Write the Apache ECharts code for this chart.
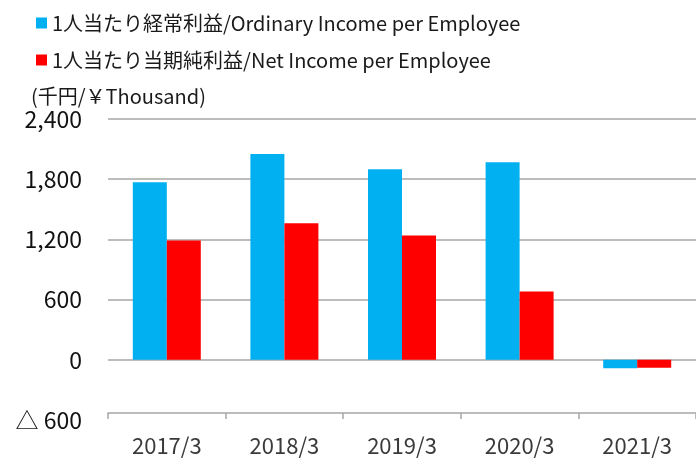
<!DOCTYPE html>
<html>
<head>
<meta charset="utf-8">
<script src="https://cdn.jsdelivr.net/npm/echarts@6/dist/echarts.min.js"></script>
<style>
  html, body { margin: 0; padding: 0; background: #fff; }
  #chart { width: 696px; height: 458px; }
</style>
</head>
<body>
<div id="chart"></div>
<script>
const years = ['2017/3', '2018/3', '2019/3', '2020/3', '2021/3'];
const ordinaryIncome = [1770, 2050, 1900, 1970, -85];
const netIncome = [1190, 1360, 1240, 680, -80];

const FONT = '"Noto Sans CJK JP", "Noto Sans", sans-serif';

const chart = echarts.init(document.getElementById('chart'));

chart.setOption({
    animation: false,
    backgroundColor: '#fff',
    textStyle: { fontFamily: FONT },
    title: {
        text: '(千円/￥Thousand)',
        left: 26,
        top: 81,
        textStyle: { fontFamily: FONT, fontSize: 20, fontWeight: 'normal', color: '#1a1a1a' }
    },
    legend: {
        orient: 'vertical',
        left: 31,
        top: 8,
        itemGap: 17,
        itemWidth: 11,
        itemHeight: 11,
        icon: 'rect',
        textStyle: { fontFamily: FONT, fontSize: 20, color: '#1a1a1a' },
        data: ['1人当たり経常利益/Ordinary Income per Employee', '1人当たり当期純利益/Net Income per Employee']
    },
    grid: {
        left: 108,
        right: 0,
        top: 119,
        bottom: 38
    },
    xAxis: {
        type: 'category',
        data: years,
        offset: -7,
        axisLine: { onZero: false, lineStyle: { color: '#a6a6a6', width: 1.5 } },
        axisTick: { show: true, length: 6, lineStyle: { color: '#a6a6a6', width: 1.5 } },
        axisLabel: { fontFamily: FONT, fontSize: 22, color: '#3a3a3a', margin: 22 }
    },
    yAxis: {
        type: 'value',
        min: -600,
        max: 2400,
        interval: 600,
        axisLine: { show: false },
        axisTick: { show: false },
        splitLine: { showMinLine: false, lineStyle: { color: '#a6a6a6', width: 1.5 } },
        axisLabel: {
            fontFamily: FONT,
            fontSize: 23,
            color: '#111',
            margin: 26,
            formatter: function (v) {
                const s = Math.abs(v).toLocaleString('en-US');
                return v < 0 ? '△ ' + s : s;
            }
        }
    },
    series: [
        {
            name: '1人当たり経常利益/Ordinary Income per Employee',
            type: 'bar',
            data: ordinaryIncome,
            barWidth: 34,
            barGap: '0%',
            itemStyle: { color: '#00b0f0' }
        },
        {
            name: '1人当たり当期純利益/Net Income per Employee',
            type: 'bar',
            data: netIncome,
            barWidth: 34,
            barGap: '0%',
            itemStyle: { color: '#ff0000' }
        }
    ]
});
</script>
</body>
</html>
